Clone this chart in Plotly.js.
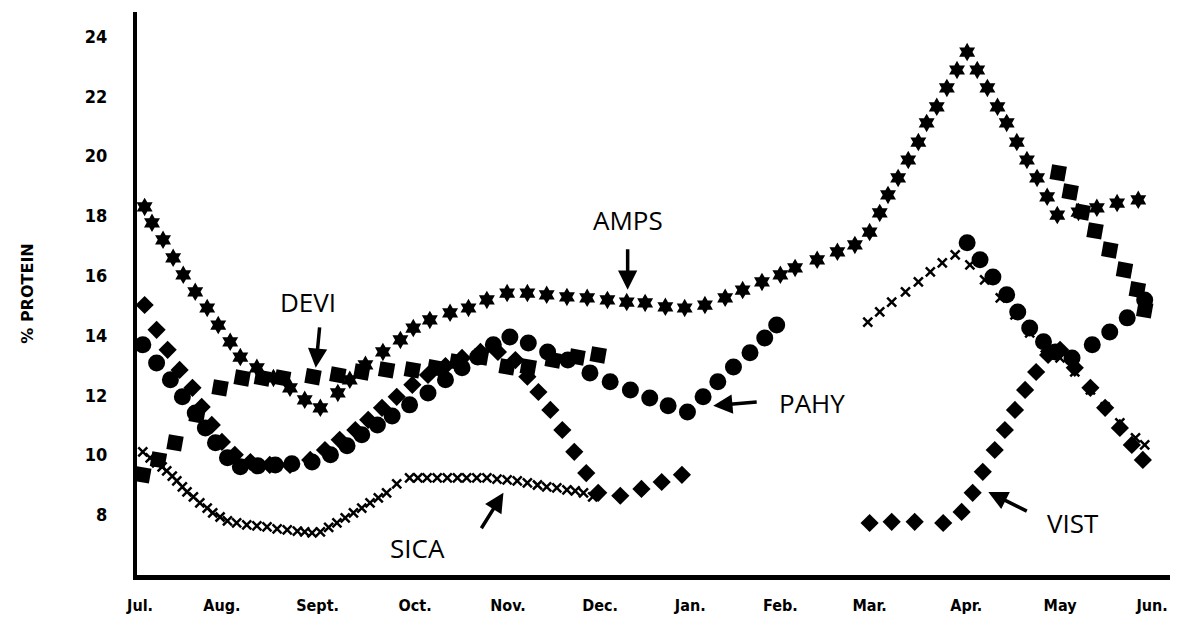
<!DOCTYPE html>
<html>
<head>
<meta charset="utf-8">
<script src="https://cdn.plot.ly/plotly-3.0.1.min.js"></script>
<style>html,body{margin:0;padding:0;background:#fff;}#chart{width:1178px;height:630px;}</style>
</head>
<body>
<div id="chart"></div>
<script>
// Month axis: 0 = Jul ... 11 = Jun
const monthLabels = ["Jul.","Aug.","Sept.","Oct.","Nov.","Dec.","Jan.","Feb.","Mar.","Apr.","May","Jun."];
const monthPos    = [0, 0.89, 1.93, 2.99, 4.0, 5.0, 5.98, 6.96, 7.93, 8.98, 10.0, 11.0];

// AMPS (six-pointed stars)
const ampsX = [0.05,0.13,0.25,0.36,0.47,0.60,0.73,0.85,0.98,1.09,1.27,1.45,1.63,1.79,1.96,2.15,2.28,2.45,2.64,2.83,2.97,3.15,3.37,3.57,3.77,3.99,4.21,4.42,4.64,4.86,5.08,5.29,5.49,5.71,5.92,6.14,6.36,6.55,6.76,6.96,7.12,7.36,7.58,7.77,7.93,8.04,8.13,8.24,8.35,8.46,8.55,8.66,8.77,8.88,8.99,9.10,9.21,9.32,9.42,9.53,9.64,9.75,9.86,9.97,10.20,10.40,10.62,10.85];
const ampsY = [18.30,17.77,17.20,16.60,16.03,15.46,14.92,14.35,13.79,13.28,12.92,12.58,12.25,11.85,11.58,12.08,12.52,13.02,13.45,13.85,14.25,14.52,14.76,14.92,15.19,15.42,15.42,15.36,15.29,15.26,15.19,15.12,15.09,14.96,14.92,15.02,15.26,15.52,15.79,16.03,16.26,16.53,16.80,17.03,17.46,18.10,18.70,19.27,19.87,20.47,21.11,21.65,22.28,22.88,23.48,22.88,22.28,21.65,21.11,20.47,19.87,19.27,18.64,18.03,18.13,18.27,18.43,18.54];

// DEVI (squares)
const deviX = [0.03,0.20,0.38,0.62,0.87,1.11,1.33,1.55,1.88,2.15,2.41,2.68,2.96,3.21,3.45,3.70,3.99,4.22,4.49,4.75,4.98, null, 9.98,10.11,10.24,10.38,10.54,10.70,10.84,10.92];
const deviY = [9.34,9.84,10.41,11.34,12.25,12.58,12.58,12.58,12.62,12.68,12.78,12.85,12.85,12.92,13.12,13.28,12.95,12.95,13.18,13.28,13.35, null, 19.44,18.80,18.13,17.50,16.86,16.19,15.53,14.86];

// PAHY (circles)
const pahyX = [0.03,0.18,0.33,0.46,0.60,0.71,0.82,0.95,1.09,1.28,1.47,1.65,1.87,2.07,2.25,2.41,2.58,2.74,2.93,3.13,3.32,3.50,3.67,3.84,4.02,4.22,4.43,4.65,4.89,5.11,5.33,5.54,5.74,5.95,6.12,6.28,6.45,6.63,6.79,6.92, null, 8.99,9.13,9.27,9.42,9.54,9.67,9.82,9.95,10.13,10.35,10.54,10.73,10.92];
const pahyY = [13.69,13.08,12.52,11.95,11.41,10.91,10.41,9.91,9.61,9.64,9.67,9.71,9.77,10.01,10.31,10.68,11.01,11.31,11.68,12.08,12.52,12.92,13.28,13.69,13.95,13.75,13.45,13.18,12.75,12.45,12.18,11.91,11.65,11.44,11.95,12.45,12.95,13.42,13.92,14.35, null, 17.10,16.53,15.96,15.36,14.79,14.25,13.79,13.45,13.25,13.69,14.12,14.59,15.19];

// SICA (x marks)
const sicaX = [0.03,0.11,0.18,0.24,0.29,0.35,0.40,0.46,0.51,0.58,0.65,0.73,0.79,0.87,0.95,1.05,1.16,1.27,1.38,1.49,1.60,1.71,1.79,1.87,1.96,2.05,2.14,2.23,2.32,2.41,2.50,2.59,2.68,2.79,2.93,3.02,3.12,3.23,3.34,3.45,3.55,3.66,3.77,3.88,3.99,4.10,4.21,4.32,4.42,4.53,4.64,4.73,4.82,4.92, null, 7.91,8.04,8.17,8.32,8.46,8.59,8.72,8.86,9.02,9.18,9.35,9.51,9.67,9.84,10.00,10.16,10.33,10.49,10.65,10.82,10.92];
const sicaY = [10.11,9.91,9.74,9.61,9.47,9.30,9.14,8.94,8.77,8.60,8.40,8.23,8.07,7.93,7.80,7.73,7.67,7.63,7.60,7.53,7.50,7.46,7.43,7.40,7.43,7.58,7.73,7.90,8.07,8.23,8.40,8.57,8.74,9.04,9.24,9.24,9.24,9.24,9.24,9.24,9.24,9.24,9.24,9.20,9.17,9.14,9.07,9.00,8.94,8.90,8.84,8.80,8.74,8.60, null, 14.45,14.79,15.12,15.46,15.79,16.13,16.43,16.70,16.36,15.86,15.26,14.69,14.09,13.59,13.25,12.78,12.18,11.61,11.08,10.58,10.34];

// VIST (diamonds)
const vistX = [0.05,0.18,0.30,0.43,0.57,0.67,0.78,0.89,1.03,1.20,1.41,1.63,1.85,2.01,2.17,2.34,2.48,2.63,2.79,2.96,3.13,3.32,3.50,3.70,3.89,4.08,4.21,4.33,4.46,4.59,4.72,4.85,4.98,5.22,5.45,5.67,5.89, null, 7.93,8.17,8.42,8.73,8.93,9.05,9.16,9.29,9.40,9.51,9.62,9.74,9.87,10.00,10.16,10.33,10.49,10.65,10.78,10.90];
const vistY = [15.02,14.19,13.52,12.85,12.25,11.61,11.01,10.44,10.01,9.77,9.67,9.67,9.84,10.17,10.51,10.84,11.18,11.58,11.95,12.35,12.68,12.98,13.25,13.45,13.45,13.18,12.62,12.11,11.51,10.84,10.11,9.40,8.74,8.64,8.87,9.10,9.34, null, 7.73,7.77,7.77,7.73,8.10,8.74,9.44,10.17,10.84,11.51,12.18,12.78,13.35,13.52,12.92,12.25,11.58,10.91,10.34,9.84];

const seriesNames = ["AMPS","DEVI","PAHY","SICA","VIST"];

const black = "#000";
const traces = [
  {name: seriesNames[4], x: vistX, y: vistY, mode: "markers", type: "scatter",
   marker: {symbol: "diamond", size: 14, color: black}},
  {name: seriesNames[2], x: pahyX, y: pahyY, mode: "markers", type: "scatter",
   marker: {symbol: "circle", size: 17, color: black}},
  {name: seriesNames[1], x: deviX, y: deviY, mode: "markers", type: "scatter",
   marker: {symbol: "square", size: 15, color: black, angle: 10}},
  {name: seriesNames[3], x: sicaX, y: sicaY, mode: "markers", type: "scatter",
   marker: {symbol: "x-thin-open", size: 9, color: black, line: {color: black, width: 2.5}}},
  {name: seriesNames[0], x: ampsX, y: ampsY, mode: "markers", type: "scatter",
   marker: {symbol: "hexagram", size: 14, color: black}}
];

const labelFont = {family: "Open Sans, Lato, sans-serif", size: 26, color: black};
function label(text, x, y) {
  return {text: text, x: x, y: y, xref: "x", yref: "y", showarrow: false, font: labelFont, xanchor: "center", yanchor: "middle"};
}
function arrow(x, y, ax, ay) {
  return {text: "", x: x, y: y, xref: "x", yref: "y", showarrow: true, ax: ax, ay: ay,
          arrowhead: 2, arrowsize: 1.1, arrowwidth: 3.5, arrowcolor: black};
}

const layout = {
  width: 1178, height: 630,
  margin: {l: 137, r: 8, t: 12, b: 55},
  paper_bgcolor: "#fff", plot_bgcolor: "#fff",
  showlegend: false,
  xaxis: {
    range: [-0.033, 11.195],
    tickvals: monthPos, ticktext: monthLabels,
    showgrid: false, zeroline: false,
    showline: true, linecolor: black, linewidth: 5,
    ticks: "", ticklabelstandoff: 12,
    tickfont: {family: "Liberation Sans Narrow, DejaVu Sans Condensed, sans-serif", size: 16, color: black, weight: "bold"}
  },
  yaxis: {
    range: [5.99, 24.82],
    tickvals: [8, 10, 12, 14, 16, 18, 20, 22, 24],
    showgrid: false, zeroline: false,
    showline: true, linecolor: black, linewidth: 4,
    ticks: "", ticklabelstandoff: 22,
    tickfont: {family: "Liberation Sans Narrow, DejaVu Sans Condensed, sans-serif", size: 18, color: black, weight: "bold"},
    title: {text: "% PROTEIN", standoff: 48,
            font: {family: "DejaVu Sans, sans-serif", size: 16, color: black, weight: "bold"}}
  },
  annotations: [
    label("AMPS", 5.30, 17.87),
    label("DEVI", 1.83, 15.12),
    label("PAHY", 7.30, 11.75),
    label("SICA", 3.02, 6.90),
    label("VIST", 10.14, 7.73),
    arrow(5.30, 15.53, 0, -42),
    arrow(1.91, 12.92, 4, -42),
    arrow(6.23, 11.65, 45, -4),
    arrow(3.95, 8.74, -23, 37),
    arrow(9.22, 8.77, 40, 20)
  ]
};

Plotly.newPlot("chart", traces, layout, {displayModeBar: false, staticPlot: true});
</script>
</body>
</html>
